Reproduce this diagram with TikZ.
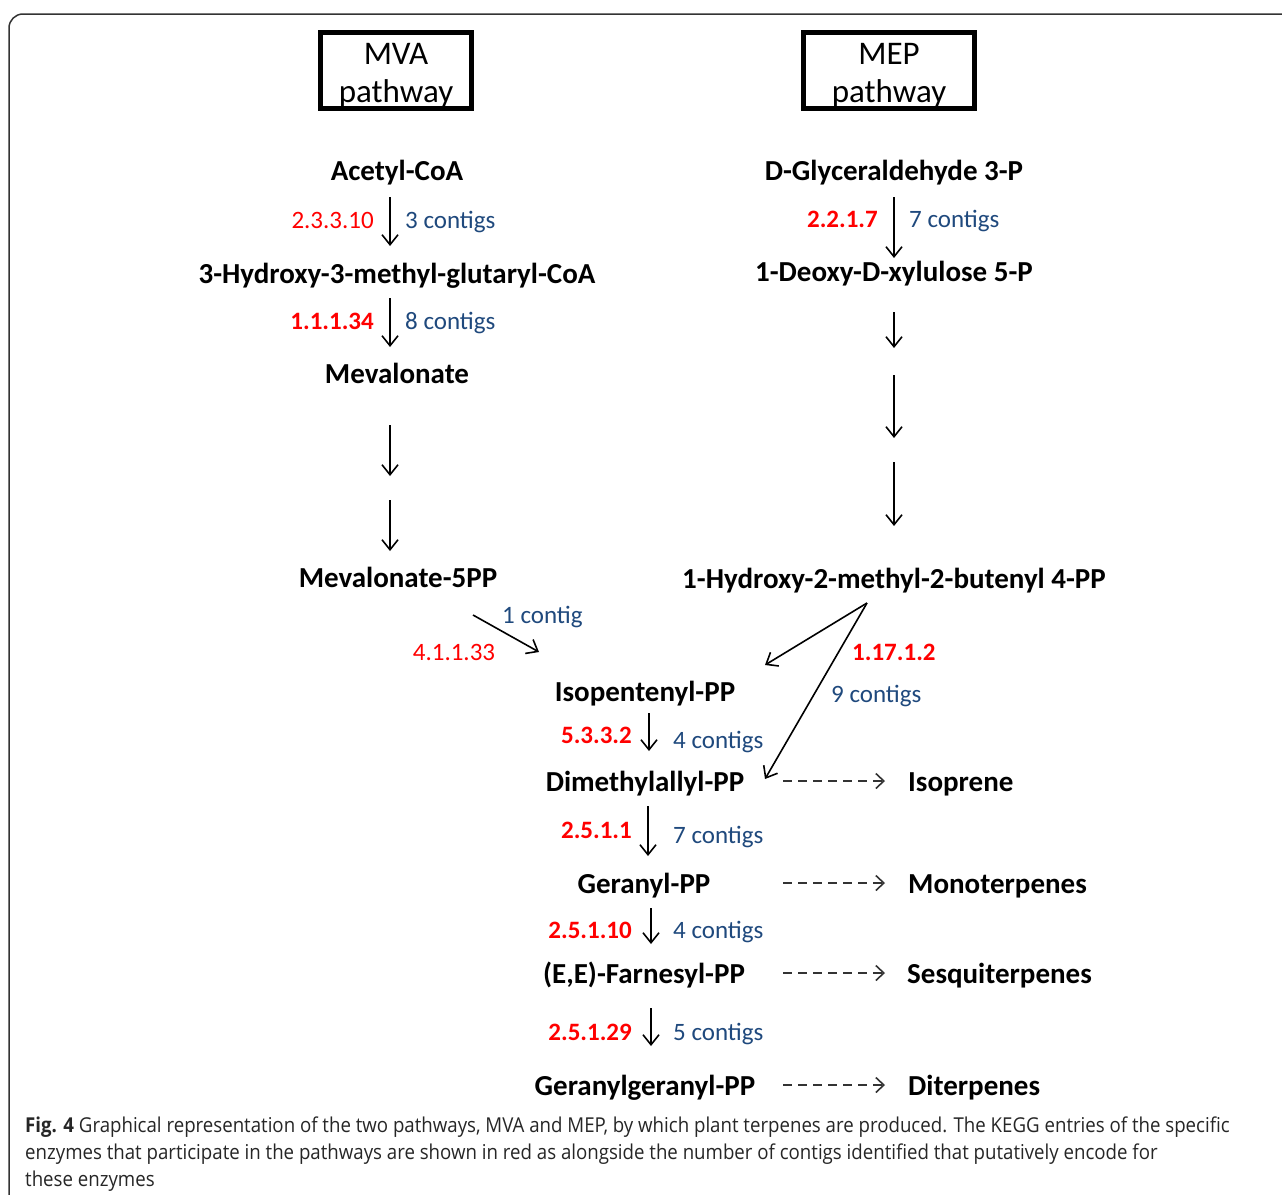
\documentclass[tikz,border=0pt]{standalone}
\usepackage{fontspec}
\setmainfont{Carlito}
\newfontfamily\capfont[FakeStretch=0.91]{Open Sans}
\usetikzlibrary{arrows.meta}
\definecolor{ecred}{HTML}{FF0000}
\definecolor{ctblue}{HTML}{1F497D}
\definecolor{framegray}{HTML}{333333}
\begin{document}
\begin{tikzpicture}[x=1pt,y=-1pt,
  mol/.style={font=\fontsize{29}{32}\selectfont\bfseries, inner sep=0pt, anchor=base},
  molw/.style={mol, anchor=base west},
  ecn/.style={font=\fontsize{25}{28}\selectfont, text=ecred, inner sep=0pt, anchor=base east},
  ecb/.style={ecn, font=\fontsize{25}{28}\selectfont\bfseries},
  ctg/.style={font=\fontsize{25}{28}\selectfont, text=ctblue, inner sep=0pt, anchor=base west},
  rxn/.style={line width=1.6pt, -{Straight Barb[length=10pt,width=16pt,line width=1.6pt]}},
  prod/.style={line width=1.6pt, draw=black!80, dash pattern=on 9pt off 6pt,
     -{Straight Barb[length=8pt,width=15pt,line width=1.6pt,sep=0pt]}},
  pwbox/.style={draw, line width=5pt, minimum width=151pt, minimum height=76pt, inner sep=0pt},
  pwtext/.style={font=\fontsize{33}{40}\selectfont, inner sep=0pt, anchor=base},
  captxt/.style={font=\capfont\fontsize{20.5}{24}\selectfont, inner sep=0pt, anchor=base west, text=black!85}
]
\useasboundingbox (0,0) rectangle (1282,1194);
\fill[white] (0,0) rectangle (1282,1194);
% outer frame
\draw[framegray, line width=1.5pt, rounded corners=14pt] (9,14) rectangle (1320,1230);

% pathway boxes
\node[pwbox] (mvabox) at (396,70.5) {};
\node[pwtext] (mvat1) at (396,64) {MVA};
\node[pwtext] (mvat2) at (396,102.5) {pathway};
\node[pwbox, minimum width=171pt] (mepbox) at (889,70.5) {};
\node[pwtext] (mept1) at (889,64) {MEP};
\node[pwtext] (mept2) at (889,102.5) {pathway};

% MVA molecules
\node[mol] (acoa) at (397,180) {Acetyl-CoA};
\node[mol] (hmg) at (397,283) {3-Hydroxy-3-methyl-glutaryl-CoA};
\node[mol] (mev) at (397,383) {Mevalonate};
\node[mol] (mev5) at (398,587) {Mevalonate-5PP};

% MEP molecules
\node[mol] (gap) at (894,180) {D-Glyceraldehyde 3-P};
\node[mol] (dxp) at (894,281) {1-Deoxy-D-xylulose 5-P};
\node[mol] (hmb) at (894,588) {1-Hydroxy-2-methyl-2-butenyl 4-PP};

% common
\node[mol] (ipp) at (645,701) {Isopentenyl-PP};
\node[mol] (dma) at (645,791) {Dimethylallyl-PP};
\node[mol] (gpp) at (644,893) {Geranyl-PP};
\node[mol] (fpp) at (644,983) {(E,E)-Farnesyl-PP};
\node[mol] (ggpp) at (645,1095) {Geranylgeranyl-PP};

\node[molw] (iso) at (908,791) {Isoprene};
\node[molw] (mono) at (908,893) {Monoterpenes};
\node[molw] (sesq) at (907,983) {Sesquiterpenes};
\node[molw] (dit) at (908,1095) {Diterpenes};

% enzyme labels
\node[ecn] (e1) at (374,228) {2.3.3.10};
\node[ctg] (c1) at (405,228) {3 contigs};
\node[ecb] (e2) at (374,329) {1.1.1.34};
\node[ctg] (c2) at (405,329) {8 contigs};
\node[ecb] (e3) at (878,227) {2.2.1.7};
\node[ctg] (c3) at (909,227) {7 contigs};
\node[ctg] (c4) at (502,623) {1 contig};
\node[ecn, anchor=base] (e4) at (454,660) {4.1.1.33};
\node[ecb, anchor=base west] (e5) at (852,660) {1.17.1.2};
\node[ctg] (c5) at (831,702) {9 contigs};
\node[ecb] (e6) at (632,743) {5.3.3.2};
\node[ctg] (c6) at (673,748) {4 contigs};
\node[ecb] (e7) at (632,838) {2.5.1.1};
\node[ctg] (c7) at (673,843) {7 contigs};
\node[ecb] (e8) at (632,938) {2.5.1.10};
\node[ctg] (c8) at (673,938) {4 contigs};
\node[ecb] (e9) at (632,1040) {2.5.1.29};
\node[ctg] (c9) at (673,1040) {5 contigs};

% arrow end points
\coordinate (a1s) at (390,197); \coordinate (a1e) at (390,246);
\coordinate (a2s) at (390,298); \coordinate (a2e) at (390,347);
\coordinate (a3s) at (390,425); \coordinate (a3e) at (390,476);
\coordinate (a4s) at (390,500); \coordinate (a4e) at (390,551);
\coordinate (a5s) at (473,615); \coordinate (a5e) at (539,652);
\coordinate (b1s) at (894,197); \coordinate (b1e) at (894,258);
\coordinate (b2s) at (894,312); \coordinate (b2e) at (894,348);
\coordinate (b3s) at (894,375); \coordinate (b3e) at (894,438);
\coordinate (b4s) at (894,462); \coordinate (b4e) at (894,526);
\coordinate (hx) at (867,603);
\coordinate (hx1) at (765,665); \coordinate (hx2) at (765,779);
\coordinate (c1s) at (649,713); \coordinate (c1e) at (649,751);
\coordinate (c2s) at (648,806); \coordinate (c2e) at (648,856);
\coordinate (c3s) at (651,908); \coordinate (c3e) at (651,944);
\coordinate (c4s) at (651,1008); \coordinate (c4e) at (651,1046);
\coordinate (p1s) at (783,781); \coordinate (p1e) at (885,781);
\coordinate (p2s) at (783,883); \coordinate (p2e) at (885,883);
\coordinate (p3s) at (783,973); \coordinate (p3e) at (885,973);
\coordinate (p4s) at (783,1085); \coordinate (p4e) at (885,1085);

\draw[rxn] (a1s) -- (a1e);
\draw[rxn] (a2s) -- (a2e);
\draw[rxn] (a3s) -- (a3e);
\draw[rxn] (a4s) -- (a4e);
\draw[rxn] (a5s) -- (a5e);
\draw[rxn] (b1s) -- (b1e);
\draw[rxn] (b2s) -- (b2e);
\draw[rxn] (b3s) -- (b3e);
\draw[rxn] (b4s) -- (b4e);
\draw[rxn] (hx) -- (hx1);
\draw[rxn] (hx) -- (hx2);
\draw[rxn] (c1s) -- (c1e);
\draw[rxn] (c2s) -- (c2e);
\draw[rxn] (c3s) -- (c3e);
\draw[rxn] (c4s) -- (c4e);

% product arrows
\draw[prod] (p1s) -- (p1e);
\draw[prod] (p2s) -- (p2e);
\draw[prod] (p3s) -- (p3e);
\draw[prod] (p4s) -- (p4e);

% caption
\node[captxt] (cap1) at (25,1132) {{\bfseries Fig. 4} Graphical representation of the two pathways, MVA and MEP, by which plant terpenes are produced. The KEGG entries of the specific};
\node[captxt] (cap2) at (25,1159) {enzymes that participate in the pathways are shown in red as alongside the number of contigs identified that putatively encode for};
\node[captxt] (cap3) at (25,1186) {these enzymes};
\end{tikzpicture}
\end{document}
